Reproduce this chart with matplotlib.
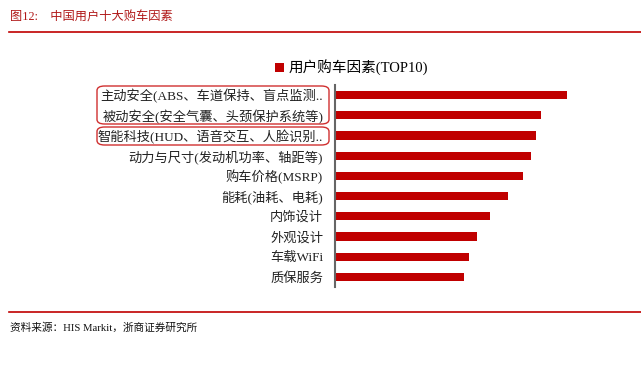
import matplotlib.pyplot as plt
from matplotlib.patches import Patch, FancyBboxPatch
from matplotlib.lines import Line2D

# ------
# DATA
# ------
factors = [
    "主动安全(ABS、车道保持、盲点监测..",
    "被动安全(安全气囊、头颈保护系统等)",
    "智能科技(HUD、语音交互、人脸识别..",
    "动力与尺寸(发动机功率、轴距等)",
    "购车价格(MSRP)",
    "能耗(油耗、电耗)",
    "内饰设计",
    "外观设计",
    "车载WiFi",
    "质保服务",
]
scores = [232, 206, 201, 196, 188, 173, 155, 142, 134, 129]
series_name = "用户购车因素(TOP10)"
title_text = "图12:　中国用户十大购车因素"
source_text = "资料来源：HIS Markit，浙商证券研究所"

RED = "#C00000"
FONT = ["Liberation Serif", "Noto Sans CJK SC"]
plt.rcParams["font.family"] = FONT

# -------
# FIGURE
# -------
fig = plt.figure(figsize=(6.41, 3.75), dpi=100)
ax = fig.add_axes([335 / 641, 1 - 287 / 375, 265 / 641, 202 / 375])

y = list(range(len(factors)))
ax.barh(y, scores, height=0.4, color=RED, label=series_name)
ax.set_ylim(len(factors) - 0.5, -0.5)
ax.set_xlim(0, 265)

ax.set_yticks(y)
ax.set_yticklabels(factors, fontsize=9.5, color="#222222")
ax.tick_params(axis="y", length=0, pad=8.5)
ax.set_xticks([])

for side in ["top", "right", "bottom"]:
    ax.spines[side].set_visible(False)
ax.spines["left"].set_color("#666666")
ax.spines["left"].set_linewidth(1.5)

ax.legend(
    handles=[Patch(facecolor=RED, label=series_name)],
    loc="center left",
    bbox_to_anchor=(268 / 641, 1 - 68 / 375),
    bbox_transform=fig.transFigure,
    frameon=False,
    fontsize=10.5,
    handlelength=0.6,
    handleheight=0.6,
    handletextpad=0.3,
    borderpad=0,
)

# rounded boxes around highlighted labels
for (x0, y0, x1, y1) in [(97, 86, 329, 124), (97, 127, 329, 145)]:
    fig.patches.append(FancyBboxPatch(
        (x0 / 641, 1 - y1 / 375), (x1 - x0) / 641, (y1 - y0) / 375,
        boxstyle="round,pad=0,rounding_size=0.012",
        transform=fig.transFigure, fill=False, edgecolor="#D03030", linewidth=1,
    ))

# title and source
fig.text(10 / 641, 1 - 17 / 375, title_text, fontsize=8.8, color="#B01818", va="center")
fig.lines.append(Line2D([9 / 641, 1], [1 - 31.5 / 375] * 2, transform=fig.transFigure, color="#C00000", linewidth=1.2))
fig.lines.append(Line2D([9 / 641, 1], [1 - 312 / 375] * 2, transform=fig.transFigure, color="#C00000", linewidth=1.2))
fig.text(10 / 641, 1 - 328 / 375, source_text, fontsize=7.7, color="#111111", va="center")

fig.savefig("out.png", dpi=100)
